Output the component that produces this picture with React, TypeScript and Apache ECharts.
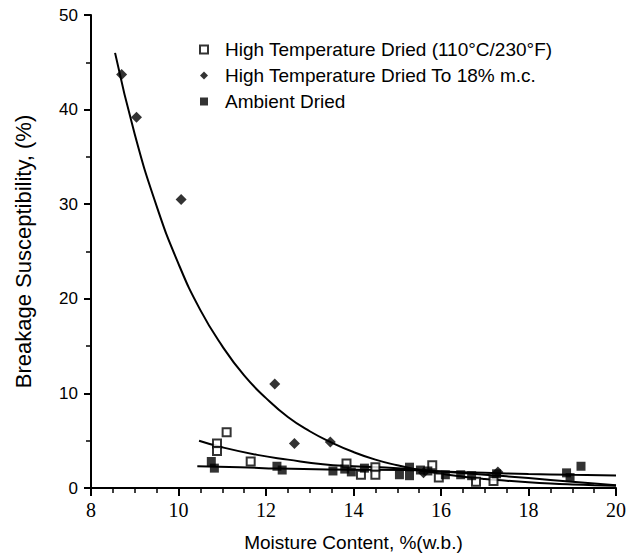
import React, { useEffect, useRef } from "react";
import * as echarts from "echarts";

const xTicks = { min: 8, max: 20, interval: 2 };
const yTicks = { min: 0, max: 50, interval: 10 };

const htDried: number[][] = [
  [10.88, 4.7], [10.88, 3.9], [11.1, 5.9], [11.65, 2.8], [13.84, 2.6], [14.17, 1.4],
  [14.5, 2.2], [14.5, 1.4], [15.8, 2.4], [15.95, 1.1], [16.8, 0.65], [17.2, 0.75],
];
const ht18: number[][] = [
  [8.7, 43.7], [9.04, 39.2], [10.06, 30.5], [12.2, 11.0], [12.65, 4.7], [13.47, 4.85],
  [15.6, 1.6], [17.3, 1.7],
];
const ambient: number[][] = [
  [10.75, 2.8], [10.82, 2.1], [12.25, 2.3], [12.37, 1.9], [13.53, 1.8], [13.8, 2.0],
  [13.95, 1.7], [14.25, 2.1], [15.05, 1.4], [15.28, 2.2], [15.28, 1.3], [15.53, 1.9],
  [15.7, 1.8], [16.1, 1.4], [16.45, 1.4], [16.7, 1.3], [17.27, 1.5], [18.87, 1.6],
  [18.95, 1.1], [19.2, 2.3],
];
const ht18Curve: number[][] = [
  [8.55, 46], [9.0, 37.4], [9.5, 29.8], [10, 23.7], [10.5, 18.8], [11, 15.0], [11.5, 11.9],
  [12, 9.5], [12.5, 7.5], [13, 6.0], [13.5, 4.8], [14, 3.8], [14.5, 3.0], [15, 2.4],
  [15.5, 1.9], [16, 1.5], [16.5, 1.2], [17, 0.96], [17.5, 0.77], [18, 0.61], [18.5, 0.48],
  [19, 0.38], [19.5, 0.3], [20, 0.24],
];
const htCurve: number[][] = [
  [10.47, 5.0], [11, 4.3], [11.8, 3.5], [12.5, 3.0], [13.3, 2.5], [14, 2.3], [15, 2.1],
  [16, 1.75], [17, 1.4], [18, 1.05], [19, 0.65], [20, 0.3],
];
const ambientCurve: number[][] = [
  [10.43, 2.3], [11.4, 2.2], [12.3, 2.05], [13.5, 1.95], [15.2, 1.9], [16, 1.75],
  [17, 1.6], [18, 1.48], [19, 1.4], [20, 1.33],
];

const names = [
  "High Temperature Dried (110°C/230°F)",
  "High Temperature Dried To 18% m.c.",
  "Ambient Dried",
];

const SANS = "Liberation Sans, Arial, Helvetica, sans-serif";
const SERIF = "Liberation Serif, Times New Roman, serif";

export default function App() {
  const ref = useRef<HTMLDivElement>(null);
  useEffect(() => {
    if (!ref.current) return;
    const chart = echarts.init(ref.current, null, { renderer: "svg" });
    const lineSeries = (data: number[][]) => ({
      type: "line",
      data,
      smooth: 0.5,
      showSymbol: false,
      symbol: "none",
      lineStyle: { color: "#000", width: 2 },
      silent: true,
      z: 1,
    });
    chart.setOption({
      animation: false,
      backgroundColor: "#fff",
      grid: { left: 91, right: 9, top: 15, bottom: 67 },
      legend: {
        orient: "vertical",
        left: 194,
        top: 35,
        itemWidth: 8,
        itemHeight: 8,
        itemGap: 7,
        data: names,
        textStyle: {
          fontFamily: SANS,
          fontSize: 19,
          color: "#000",
          lineHeight: 19,
          padding: [0, 0, 0, 12],
        },
      },
      xAxis: {
        type: "value",
        min: xTicks.min,
        max: xTicks.max,
        interval: xTicks.interval,
        name: "Moisture Content, %(w.b.)",
        nameLocation: "middle",
        nameGap: 45,
        nameTextStyle: { fontFamily: SANS, fontSize: 19, color: "#000" },
        axisLine: { lineStyle: { color: "#000", width: 2 } },
        axisTick: { show: true, inside: false, length: 8, lineStyle: { color: "#000", width: 2 } },
        minorTick: { show: true, splitNumber: 4, length: 5, lineStyle: { color: "#000", width: 1.5 } },
        axisLabel: { fontFamily: SERIF, fontSize: 20, color: "#000", margin: 12 },
        splitLine: { show: false },
        minorSplitLine: { show: false },
      },
      yAxis: {
        type: "value",
        min: yTicks.min,
        max: yTicks.max,
        interval: yTicks.interval,
        name: "Breakage Susceptibility, (%)",
        nameLocation: "middle",
        nameGap: 57,
        nameTextStyle: { fontFamily: SANS, fontSize: 22, color: "#000" },
        axisLine: { lineStyle: { color: "#000", width: 2 } },
        axisTick: { show: true, inside: false, length: 7, lineStyle: { color: "#000", width: 2 } },
        minorTick: { show: true, splitNumber: 2, length: 5, lineStyle: { color: "#000", width: 1.5 } },
        axisLabel: { fontFamily: SANS, fontSize: 17, color: "#000", margin: 13 },
        splitLine: { show: false },
        minorSplitLine: { show: false },
      },
      series: [
        lineSeries(ht18Curve),
        lineSeries(htCurve),
        lineSeries(ambientCurve),
        {
          name: names[0],
          type: "scatter",
          data: htDried,
          symbol: "rect",
          symbolSize: 8,
          itemStyle: { color: "#fff", borderColor: "#000", borderWidth: 2 },
          z: 3,
        },
        {
          name: names[1],
          type: "scatter",
          data: ht18,
          symbol: "diamond",
          symbolSize: 11,
          itemStyle: { color: "#000" },
          z: 3,
        },
        {
          name: names[2],
          type: "scatter",
          data: ambient,
          symbol: "rect",
          symbolSize: 9,
          itemStyle: { color: "#000" },
          z: 3,
        },
      ],
    });
    return () => chart.dispose();
  }, []);
  return (
    <div
      ref={ref}
      style={{ position: "fixed", left: 0, top: 0, width: 629, height: 557, background: "#fff" }}
    />
  );
}
